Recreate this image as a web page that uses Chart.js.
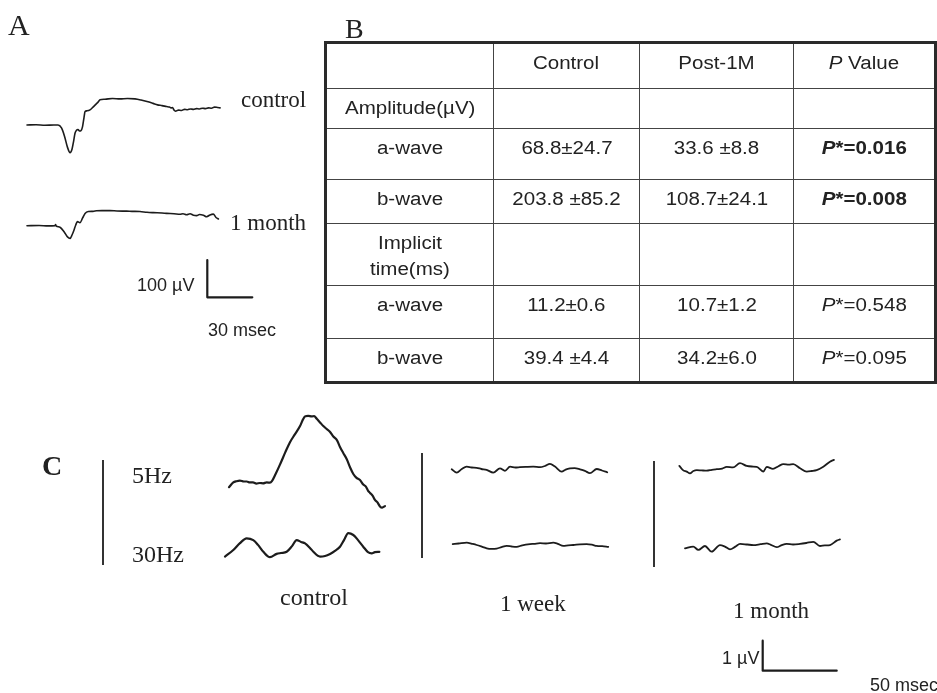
<!DOCTYPE html>
<html>
<head>
<meta charset="utf-8">
<script src="https://cdn.jsdelivr.net/npm/chart.js@4/dist/chart.umd.min.js"></script>
<style>
  html, body { margin:0; padding:0; background:#fff; }
  body { width:937px; height:693px; position:relative; overflow:hidden; color:#222; }
  #c { position:absolute; left:0; top:0; }
  .t { position:absolute; white-space:nowrap; line-height:1; }
  .serif { font-family:"Liberation Serif","Times New Roman",serif; }
  .sans { font-family:"Liberation Sans",Arial,sans-serif; }
  .vline { position:absolute; width:1.5px; background:#333; }
  #tbl { position:absolute; left:324px; top:41px; width:613px; height:343px; box-sizing:border-box;
         border:3px solid #2a2a2a; display:grid;
         grid-template-columns:167px 146px 154px 140px;
         grid-template-rows:45px 40px 51px 44px 62px 53px 42px;
         font-family:"Liberation Sans",Arial,sans-serif; font-size:18px; color:#222; }
  #tbl .cell { box-sizing:border-box; border-right:1px solid #444; border-bottom:1px solid #444;
               text-align:center; padding-top:6px; line-height:26px; overflow:visible; }
  #tbl .cell.lastc { border-right:none; }
  #tbl .cell.lastr { border-bottom:none; }
  #tbl .cell span { display:inline-block; transform:scaleX(1.14); }
</style>
</head>
<body>
<canvas id="c" width="937" height="693"></canvas>

<div class="t serif" style="left:8px;top:10px;font-size:30px;">A</div>
<div class="t serif" style="left:345px;top:15px;font-size:28px;">B</div>
<div class="t serif" style="left:42px;top:452px;font-size:28px;font-weight:bold;">C</div>

<div class="t serif" style="left:241px;top:88px;font-size:23px;">control</div>
<div class="t serif" style="left:230px;top:211px;font-size:23px;">1 month</div>
<div class="t sans" style="left:137px;top:276px;font-size:18px;">100 µV</div>
<div class="t sans" style="left:208px;top:321px;font-size:18px;">30 msec</div>

<div class="vline" style="left:102px;top:460px;height:105px;"></div>
<div class="vline" style="left:421px;top:453px;height:105px;"></div>
<div class="vline" style="left:653px;top:461px;height:106px;"></div>

<div class="t serif" style="left:132px;top:463px;font-size:24px;">5Hz</div>
<div class="t serif" style="left:132px;top:542px;font-size:24px;">30Hz</div>
<div class="t serif" style="left:280px;top:585px;font-size:24px;">control</div>
<div class="t serif" style="left:500px;top:592px;font-size:23px;">1 week</div>
<div class="t serif" style="left:733px;top:599px;font-size:23px;">1 month</div>
<div class="t sans" style="left:722px;top:649px;font-size:18px;">1 µV</div>
<div class="t sans" style="left:870px;top:676px;font-size:18px;">50 msec</div>

<div id="tbl"></div>

<script>
// ---------- Panel A: flash ERG (time in ms, amplitude in µV) ----------
const aTimeCtrl = [0,6,12,18,20.7,23,25,27,28.7,30,31,32,33,34,35,36,37,38,38.7,40,42,44,46,47.5,48.7,52,57,62,67,72,76,80,84,87,90,93,95,96,97,98,99,101,103,105,107,109,111,113,115,117,119,121,123,125,127,128.7];
const aCtrl     = [0,0.5,-0.5,0,0,-8,-30,-60,-74,-65,-45,-22,-14,-12,-16,-15,-5,20,36,38,40.5,48,56,62,67.5,69,71,70,71,70,67,63,58,54,52,49.5,48,46,47,40,37,40,39,42,41,43,42,44,43,45,44,46,45,48,47,46];
const aTimeMonth = [0,8,14,18.7,19,19.5,22,25,27,28.7,30,31.3,32.5,33.6,35.3,37,38.7,40.9,44,46.4,50,55.3,60,66.4,70,75.3,80,84.2,90,93.1,98,102,104,106.4,108.7,111,113.1,115,117.6,119.8,122,124.2,126,127.6];
const aMonth     = [0,0.5,-0.5,0,3,-1,-4,-18,-30,-34,-25,-12,2,11,8,20,33,38,38.5,40,40.5,40.5,39.5,39,38.5,38,36,35,34,33,32,30.5,32,29.5,32,28,27,30,28,24,29,31,22,18];
const aScaleUV = 100, aScaleMs = 30;

// ---------- Panel C: flicker ERG (time in ms, amplitude in µV) ----------
const cCtrl5T = [0,2.9,5,7.4,10,12,14,16.2,18.5,20.9,23,25.5,27.7,29,31.5,34.5,38,41.2,44.5,48,50,51.4,53.5,55.9,57.5,59.3,61.5,63.7,66,68,70.5,73,75,77.2,79.5,82,84,86,88.5,90.7,92.5,94,95.3,97,98.6,100.2,102,103.5,105.4];
const cCtrl5V = [-0.14,0.02,0.06,0.08,0.05,0.05,0.02,0.02,-0.02,0,-0.01,0.02,0.01,0.06,0.3,0.62,1.02,1.36,1.62,1.9,2.12,2.22,2.24,2.22,2.23,2.14,2.02,1.9,1.8,1.72,1.55,1.42,1.2,1.0,0.8,0.5,0.3,0.18,0.1,-0.05,-0.12,-0.26,-0.33,-0.42,-0.56,-0.64,-0.78,-0.82,-0.77];
const cCtrl30T = [0,5.6,10.1,14.6,19.1,22.3,25.9,30.4,34.9,37.8,41.7,45.3,48.4,51.4,54.1,57.4,59.7,64.2,67.6,71,74.3,77.7,80.4,83.3,86.7,89.9,93.4,96.6,99.1,101.3,104.3];
const cCtrl30V = [-0.22,0,0.23,0.39,0.33,0.17,-0.06,-0.24,-0.13,-0.1,-0.06,0.13,0.33,0.27,0.22,0.07,-0.06,-0.22,-0.2,-0.13,-0.03,0.11,0.33,0.56,0.5,0.33,0.11,-0.07,-0.11,-0.07,-0.06];
const cWeek5T = [0,3.4,6.8,10.1,13.5,16.9,20,23.6,28.1,32.6,36,39.4,43,46.1,50,55.1,59.7,63,66.4,69.8,74.3,77,79.9,83,86.7,90,93.4,98,101.5,105.1];
const cWeek5V = [-0.01,-0.12,0,0.08,0.05,0.04,0,-0.03,-0.12,0.02,-0.06,0.08,0.05,0.06,0.07,0.08,0.06,0.1,0.17,0.08,-0.09,-0.02,0.02,0.03,-0.01,-0.06,-0.14,0,-0.05,-0.11];
const cWeek30T = [0,4,9.5,13,16.2,20,23,26,29.7,33,36.5,40,43.2,47,52.2,55,59,63,68,71,74.7,78,81.5,86,90.5,94,97.3,101,105.1];
const cWeek30V = [0.03,0.05,0.08,0.04,0,-0.06,-0.11,-0.13,-0.12,-0.07,-0.03,-0.05,-0.06,-0.01,0.03,0.04,0.06,0.05,0.08,0.04,-0.03,-0.01,0,0.02,0.03,0.01,-0.03,-0.04,-0.06];
const cMonth5T = [0,2.5,5,7.2,9.5,11.8,15,18.5,22,25.3,29,32,36.3,41,45.5,49,52.3,56.8,59.1,63.3,67,70.3,74,77,81.6,86.1,89.5,92.8,97.3,101.8,104.5];
const cMonth5V = [0.07,-0.07,-0.12,-0.18,-0.1,-0.07,-0.08,-0.09,-0.06,-0.04,-0.02,0.04,0.02,0.16,0.07,0.05,0.04,-0.12,0.04,-0.03,0.06,0.13,0.11,0.13,-0.01,-0.12,-0.1,-0.07,0.04,0.21,0.27];
const cMonth30T = [0,5.6,9,13.5,18,23.6,27,30.4,34,37.2,42,46.2,51,55.2,58,62,65,68.7,73,77.7,82,86.7,91.2,94.5,98,102.5,104.7];
const cMonth30V = [-0.08,-0.02,-0.13,0,-0.19,0.03,-0.02,-0.11,-0.02,0.07,0.05,0.03,0.06,0.09,0.04,-0.04,0.02,0.07,0.05,0.07,0.1,0.14,0,0.02,0.03,0.18,0.22];
const cScaleUV = 1, cScaleMs = 50;

// ---------- Panel B: table ----------
const tableHeader = ['', 'Control', 'Post-1M', '<i>P</i> Value'];
const rowLabels   = ['Amplitude(µV)', 'a-wave', 'b-wave', 'Implicit<br>time(ms)', 'a-wave', 'b-wave'];
const controlVals = ['', '68.8±24.7', '203.8 ±85.2', '', '11.2±0.6', '39.4 ±4.4'];
const postVals    = ['', '33.6 ±8.8', '108.7±24.1', '', '10.7±1.2', '34.2±6.0'];
const pVals       = ['', '0.016', '0.008', '', '0.548', '0.095'];
const pBold       = [false, true, true, false, false, false];

// build table
(function(){
  const tbl = document.getElementById('tbl');
  const rows = [tableHeader];
  for (let i = 0; i < rowLabels.length; i++) {
    let p = pVals[i] ? '<i>P</i>*=' + pVals[i] : '';
    if (p && pBold[i]) p = '<b>' + p + '</b>';
    rows.push([rowLabels[i], controlVals[i], postVals[i], p]);
  }
  rows.forEach((r, ri) => r.forEach((txt, ci) => {
    const d = document.createElement('div');
    d.className = 'cell' + (ci === 3 ? ' lastc' : '') + (ri === rows.length - 1 ? ' lastr' : '');
    d.innerHTML = txt ? '<span>' + txt + '</span>' : '';
    tbl.appendChild(d);
  }));
})();

// ---------- Chart: each trace on its own hidden axis pair ----------
const W = 937, H = 693;
const panelA = { msPerPx: 30 / 45, uvPerPx: 100 / 37.3 };
const panelC = { msPerPx: 50 / 74, uvPerPx: 1 / 30 };
const scales = {};
const datasets = [];
const xy = (t, v) => t.map((x, i) => ({ x: x, y: v[i] }));
function addTrace(id, t, v, origin, panel, width, smooth) {
  scales['x' + id] = { type: 'linear', display: false, bounds: 'data',
    min: -origin[0] * panel.msPerPx, max: (W - origin[0]) * panel.msPerPx };
  scales['y' + id] = { type: 'linear', display: false, bounds: 'data',
    min: -(H - origin[1]) * panel.uvPerPx, max: origin[1] * panel.uvPerPx };
  const ds = { data: xy(t, v), xAxisID: 'x' + id, yAxisID: 'y' + id,
    borderColor: '#1c1c1c', borderWidth: width, pointRadius: 0,
    fill: false, borderJoinStyle: 'round', borderCapStyle: 'round' };
  if (smooth) { ds.cubicInterpolationMode = 'monotone'; } else { ds.tension = 0; }
  datasets.push(ds);
}
addTrace('A1', aTimeCtrl, aCtrl, [27, 125], panelA, 1.6, true);
addTrace('A2', aTimeMonth, aMonth, [27, 225.7], panelA, 1.6, true);
addTrace('A3', [0, 0, aScaleMs], [aScaleUV, 0, 0], [207.3, 297.3], panelA, 2.2, false);
addTrace('C1', cCtrl5T, cCtrl5V, [229, 483], panelC, 2.2, true);
addTrace('C2', cCtrl30T, cCtrl30V, [225, 550], panelC, 2.2, true);
addTrace('C3', cWeek5T, cWeek5V, [451.7, 469], panelC, 1.8, true);
addTrace('C4', cWeek30T, cWeek30V, [452.7, 545], panelC, 1.8, true);
addTrace('C5', cMonth5T, cMonth5V, [679.3, 468], panelC, 1.8, true);
addTrace('C6', cMonth30T, cMonth30V, [685, 546], panelC, 1.8, true);
addTrace('C7', [0, 0, cScaleMs], [cScaleUV, 0, 0], [762.7, 670.7], panelC, 2.2, false);

new Chart(document.getElementById('c'), {
  type: 'line',
  data: { datasets: datasets },
  options: {
    responsive: false, animation: false, devicePixelRatio: 1,
    layout: { padding: 0 },
    plugins: { legend: { display: false }, tooltip: { enabled: false }, title: { display: false } },
    scales: scales
  }
});
</script>
</body>
</html>
